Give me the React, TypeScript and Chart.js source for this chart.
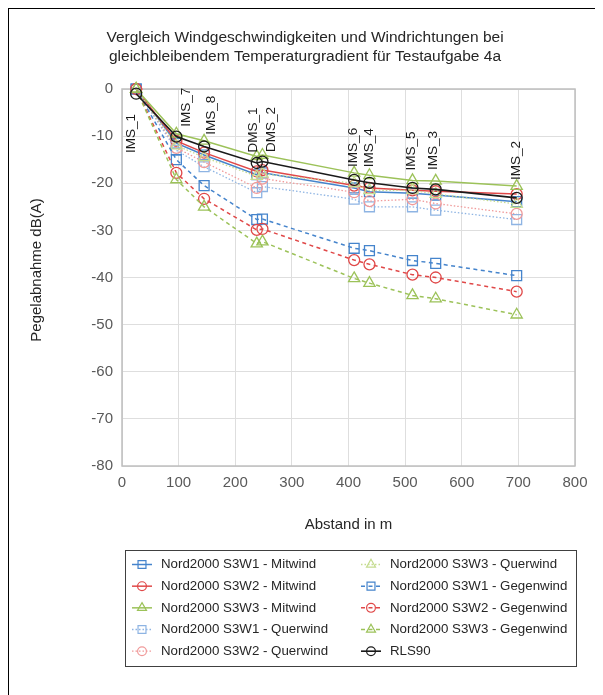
import React, { useEffect, useRef } from 'react';
import { Chart, registerables } from 'chart.js';

Chart.register(...registerables);

// ---------------- data ----------------
const TITLE_LINES = [
  'Vergleich Windgeschwindigkeiten und Windrichtungen bei',
  'gleichbleibendem Temperaturgradient für Testaufgabe 4a',
];
const X_TITLE = 'Abstand in m';
const Y_TITLE = 'Pegelabnahme dB(A)';

const STATIONS = ['IMS_1', 'IMS_7', 'IMS_8', 'DMS_1', 'DMS_2', 'IMS_6', 'IMS_4', 'IMS_5', 'IMS_3', 'IMS_2'];
const DIST = [25, 96, 145, 238, 248, 410, 437, 513, 554, 697];

const S3W1_MIT = [0, -11.5, -14.0, -18.2, -17.8, -21.0, -21.8, -22.1, -22.5, -23.9];
const S3W2_MIT = [0, -11.0, -13.5, -17.5, -17.2, -20.5, -21.0, -21.5, -21.7, -22.3];
const S3W3_MIT = [0, -9.5, -11.0, -14.3, -14.0, -17.8, -18.3, -19.4, -19.5, -20.6];
const S3W1_QUER = [0, -13.0, -16.5, -22.0, -20.7, -23.4, -25.0, -25.0, -25.7, -27.7];
const S3W2_QUER = [0, -12.5, -15.5, -21.0, -19.0, -21.9, -23.8, -23.4, -24.3, -26.5];
const S3W3_QUER = [0, -12.0, -14.5, -18.5, -18.0, -20.0, -21.5, -21.5, -22.3, -24.4];
const S3W1_GEGEN = [0, -15.0, -20.5, -27.7, -27.6, -33.8, -34.3, -36.4, -37.0, -39.6];
const S3W2_GEGEN = [0, -17.8, -23.3, -29.9, -29.7, -36.3, -37.2, -39.4, -40.0, -43.0];
const S3W3_GEGEN = [0, -19.2, -25.0, -32.8, -32.4, -40.2, -41.2, -43.8, -44.5, -47.9];
const RLS90 = [-1, -10.1, -12.2, -15.7, -15.4, -19.3, -19.9, -21.0, -21.3, -23.1];

const SERIES_NAMES = [
  'Nord2000 S3W1 - Mitwind',
  'Nord2000 S3W2 - Mitwind',
  'Nord2000 S3W3 - Mitwind',
  'Nord2000 S3W1 - Querwind',
  'Nord2000 S3W2 - Querwind',
  'Nord2000 S3W3 - Querwind',
  'Nord2000 S3W1 - Gegenwind',
  'Nord2000 S3W2 - Gegenwind',
  'Nord2000 S3W3 - Gegenwind',
  'RLS90',
];
const SERIES_VALUES = [
  S3W1_MIT, S3W2_MIT, S3W3_MIT,
  S3W1_QUER, S3W2_QUER, S3W3_QUER,
  S3W1_GEGEN, S3W2_GEGEN, S3W3_GEGEN,
  RLS90,
];

// ---------------- styles ----------------
const BLUE = '#4584cc';
const RED = '#e04848';
const GREEN = '#9cc259';
const LBLUE = '#8eb4e3';
const LRED = '#f09a9a';
const LGREEN = '#c5dc90';
const BLACK = '#1a1a1a';

const SOLID: number[] = [];
const DOTTED = [1.5, 2];
const DASHED = [4, 3.5];

const STYLES = [
  { color: BLUE, dash: SOLID, shape: 'rect', width: 1.5 },
  { color: RED, dash: SOLID, shape: 'circle', width: 1.5 },
  { color: GREEN, dash: SOLID, shape: 'triangle', width: 1.5 },
  { color: LBLUE, dash: DOTTED, shape: 'rect', width: 1.3 },
  { color: LRED, dash: DOTTED, shape: 'circle', width: 1.3 },
  { color: LGREEN, dash: DOTTED, shape: 'triangle', width: 1.3 },
  { color: BLUE, dash: DASHED, shape: 'rect', width: 1.5 },
  { color: RED, dash: DASHED, shape: 'circle', width: 1.5 },
  { color: GREEN, dash: DASHED, shape: 'triangle', width: 1.5 },
  { color: BLACK, dash: SOLID, shape: 'circle', width: 1.6 },
];
const POINT_RADIUS: Record<string, number> = { rect: 7, circle: 5.5, triangle: 6.5 };

// label placement tweaks (px): [dx, dy of text bottom relative to top-most marker]
const LABEL_SHIFT = [
  [-5, 64], [10, -7], [7, -6], [-3, -4], [9, -3],
  [-1, -6], [0, -8], [-1, -10], [-2, -11], [0, -6],
];

const FONT = '"Liberation Sans", Arial, sans-serif';
const TICK_COLOR = '#595959';
const TEXT_COLOR = '#262626';

function drawMarker(ctx: CanvasRenderingContext2D, shape: string, x: number, y: number, r: number) {
  ctx.beginPath();
  if (shape === 'rect') {
    const s = r * Math.SQRT1_2;
    ctx.rect(x - s, y - s, 2 * s, 2 * s);
  } else if (shape === 'circle') {
    ctx.arc(x, y, r, 0, Math.PI * 2);
  } else {
    const h = r * 1.5;
    const half = r * Math.cos(Math.PI / 6);
    ctx.moveTo(x, y - r);
    ctx.lineTo(x + half, y - r + h);
    ctx.lineTo(x - half, y - r + h);
    ctx.closePath();
  }
  ctx.stroke();
}

const decorPlugin = {
  id: 'decor',
  beforeDatasetsDraw(chart: any) {
    const { ctx, chartArea } = chart;
    ctx.save();
    ctx.strokeStyle = '#bfbfbf';
    ctx.lineWidth = 1.5;
    ctx.strokeRect(chartArea.left, chartArea.top, chartArea.right - chartArea.left, chartArea.bottom - chartArea.top);
    ctx.restore();
  },
  afterDraw(chart: any) {
    const { ctx, chartArea, scales } = chart;
    const w = chart.width;
    ctx.save();
    // title
    ctx.fillStyle = TEXT_COLOR;
    ctx.font = `15.5px ${FONT}`;
    ctx.textAlign = 'center';
    ctx.textBaseline = 'middle';
    ctx.fillText(TITLE_LINES[0], w / 2 + 1, 29);
    ctx.fillText(TITLE_LINES[1], w / 2 + 1, 48);
    // axis titles
    ctx.font = `15px ${FONT}`;
    ctx.fillText(X_TITLE, (chartArea.left + chartArea.right) / 2, 516);
    ctx.save();
    ctx.translate(28, 261);
    ctx.rotate(-Math.PI / 2);
    ctx.fillText(Y_TITLE, 0, 0);
    ctx.restore();

    // station labels
    ctx.font = `13.5px ${FONT}`;
    ctx.fillStyle = '#1a1a1a';
    ctx.textAlign = 'left';
    ctx.textBaseline = 'middle';
    STATIONS.forEach((name, i) => {
      let top = -Infinity;
      SERIES_VALUES.forEach((vals) => { if (vals[i] > top) top = vals[i]; });
      const px = scales.x.getPixelForValue(DIST[i]) + LABEL_SHIFT[i][0];
      const py = scales.y.getPixelForValue(top) + LABEL_SHIFT[i][1];
      ctx.save();
      ctx.translate(px, py);
      ctx.rotate(-Math.PI / 2);
      ctx.fillText(name, 0, 0);
      ctx.restore();
    });

    // legend
    const boxL = 116, boxT = 541, boxR = 567, boxB = 657;
    ctx.strokeStyle = '#404040';
    ctx.lineWidth = 1;
    ctx.setLineDash([]);
    ctx.strokeRect(boxL + 0.5, boxT + 0.5, boxR - boxL, boxB - boxT);
    ctx.font = `13.3px ${FONT}`;
    ctx.fillStyle = '#262626';
    ctx.textAlign = 'left';
    SERIES_NAMES.forEach((name, i) => {
      const col = i < 5 ? 0 : 1;
      const row = i % 5;
      const cx = col === 0 ? 133 : 362;
      const tx = col === 0 ? 152 : 381;
      const cy = 555.5 + row * 21.67;
      const st = STYLES[i];
      ctx.strokeStyle = st.color;
      ctx.lineWidth = st.width;
      ctx.setLineDash(st.dash);
      ctx.beginPath();
      ctx.moveTo(cx - 10, cy);
      ctx.lineTo(cx + 10, cy);
      ctx.stroke();
      ctx.setLineDash([]);
      ctx.lineWidth = 1.2;
      drawMarker(ctx, st.shape, cx, cy, POINT_RADIUS[st.shape] * 0.8);
      ctx.fillStyle = '#262626';
      ctx.fillText(name, tx, cy);
    });
    ctx.restore();
  },
};

export default function App() {
  const ref = useRef<HTMLCanvasElement>(null);
  useEffect(() => {
    document.body.style.overflow = 'hidden';
    const datasets = SERIES_VALUES.map((vals, i) => {
      const st = STYLES[i];
      return {
        label: SERIES_NAMES[i],
        data: DIST.map((x, j) => ({ x, y: vals[j] })),
        borderColor: st.color,
        borderWidth: st.width,
        borderDash: st.dash,
        backgroundColor: 'rgba(0,0,0,0)',
        pointStyle: st.shape,
        pointRadius: POINT_RADIUS[st.shape],
        pointBorderColor: st.color,
        pointBackgroundColor: 'rgba(0,0,0,0)',
        pointBorderWidth: 1.3,
        tension: 0,
        fill: false,
        clip: false as any,
        order: SERIES_VALUES.length - i,
      };
    });
    const chart = new Chart(ref.current as HTMLCanvasElement, {
      type: 'line',
      data: { datasets: datasets as any },
      options: {
        responsive: false,
        animation: false,
        devicePixelRatio: 1,
        layout: { padding: { top: 80, right: 24, left: 0, bottom: 0 } },
        plugins: {
          legend: { display: false },
          title: { display: false },
          tooltip: { enabled: false },
        },
        scales: {
          x: {
            type: 'linear',
            min: 0,
            max: 800,
            ticks: { stepSize: 100, color: TICK_COLOR, font: { size: 15, family: FONT }, padding: 8 },
            grid: { color: '#dedede', drawTicks: false },
            border: { display: false },
            afterFit: (s: any) => { s.height = 229; },
          },
          y: {
            type: 'linear',
            min: -80,
            max: 0,
            ticks: { stepSize: 10, color: TICK_COLOR, font: { size: 15, family: FONT }, padding: 9 },
            grid: { color: '#dedede', drawTicks: false },
            border: { display: false },
            afterFit: (s: any) => { s.width = 113; },
          },
        },
      },
      plugins: [decorPlugin as any],
    });
    return () => chart.destroy();
  }, []);
  return (
    <div style={{ width: 590, height: 686, border: '1px solid #000', background: '#fff' }}>
      <canvas ref={ref} width={590} height={686} style={{ display: 'block' }} />
    </div>
  );
}
